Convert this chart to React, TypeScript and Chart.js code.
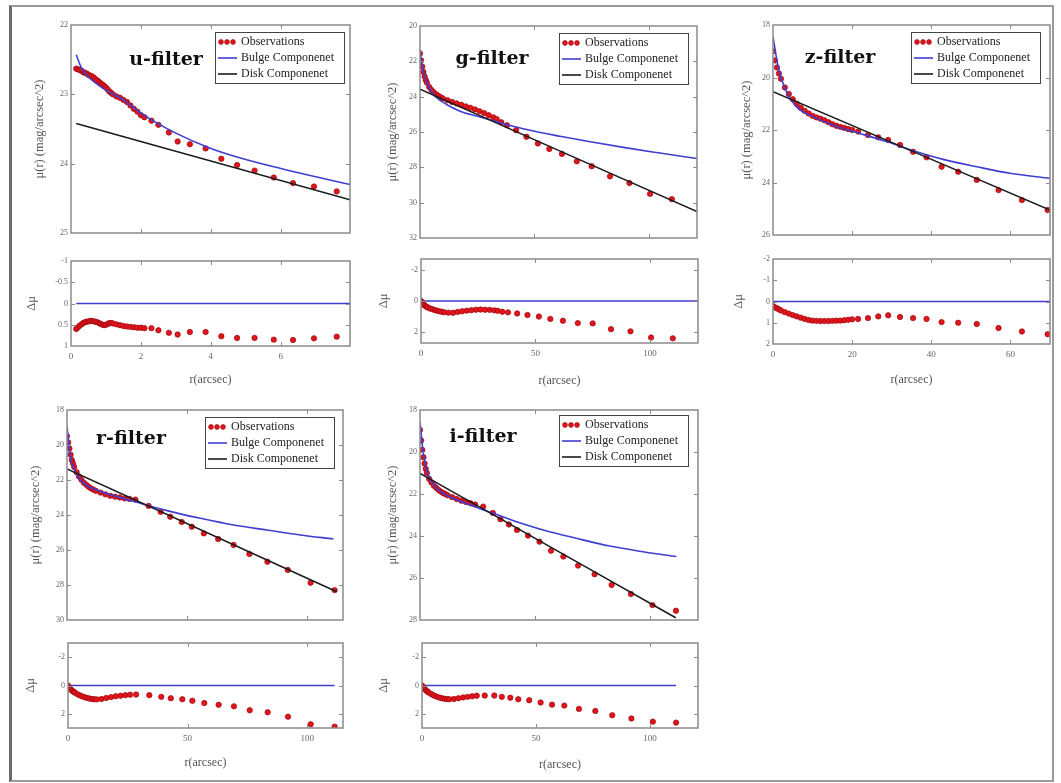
import React, { useEffect, useRef } from "react";
import { Chart, registerables } from "chart.js";
Chart.register(...registerables);

// ---------------- DATA ----------------
// u-filter
const uR = [0.15,0.2,0.25,0.3,0.35,0.4,0.45,0.5,0.55,0.6,0.65,0.7,0.75,0.8,0.85,0.9,0.95,1.0,1.05,1.1,1.15,1.2,1.3,1.4,1.5,1.6,1.7,1.8,1.9,2.0,2.1,2.3,2.5,2.8,3.05,3.4,3.85,4.3,4.75,5.25,5.8,6.35,6.95,7.6];
const uMu = [22.63,22.64,22.65,22.66,22.68,22.69,22.7,22.72,22.73,22.74,22.76,22.78,22.8,22.82,22.84,22.86,22.88,22.9,22.93,22.96,22.98,23.0,23.03,23.05,23.08,23.11,23.16,23.21,23.25,23.3,23.33,23.38,23.44,23.55,23.68,23.72,23.78,23.93,24.02,24.1,24.2,24.28,24.33,24.4];
const uDmu = [0.6,0.56,0.52,0.49,0.46,0.44,0.43,0.42,0.41,0.41,0.42,0.43,0.44,0.46,0.48,0.5,0.51,0.5,0.48,0.46,0.46,0.47,0.49,0.51,0.53,0.54,0.55,0.56,0.57,0.57,0.58,0.58,0.63,0.69,0.73,0.67,0.67,0.77,0.81,0.81,0.85,0.86,0.82,0.78];
const uBulgeR = [0.15,0.3,0.5,1,1.5,2,3,4,5,6,7,7.98];
const uBulgeMu = [22.43,22.62,22.75,22.94,23.08,23.27,23.56,23.78,23.94,24.07,24.19,24.3];
const uDiskR = [0.15,7.98];
const uDiskMu = [23.42,24.52];
const uZeroR = [0.15,7.98];
const uZeroMu = [0,0];
const uRTicks = [0,2,4,6];
const uMuTicks = [22,23,24,25];
const uDmuTicks = [-1,-0.5,0,0.5,1];

// g-filter
const gR = [0,0.5,1,1.5,2,2.5,3,4,5,6,7,8,9,10,12,14,16,18,20,22,24,26,28,30,32,33.5,35.5,38,42,46.5,51.5,56.5,62,68.5,75,83,91.5,100.5,110];
const gMu = [21.55,21.95,22.3,22.6,22.85,23.05,23.2,23.45,23.62,23.75,23.86,23.95,24.03,24.1,24.2,24.3,24.38,24.46,24.55,24.63,24.72,24.82,24.93,25.05,25.17,25.27,25.45,25.62,25.9,26.27,26.65,26.96,27.24,27.66,27.94,28.51,28.89,29.5,29.8];
const gDmu = [0.0,0.1,0.2,0.27,0.33,0.38,0.42,0.48,0.53,0.58,0.62,0.66,0.69,0.72,0.75,0.76,0.7,0.66,0.62,0.59,0.56,0.55,0.56,0.57,0.6,0.63,0.69,0.73,0.8,0.9,1.0,1.15,1.27,1.42,1.44,1.81,1.95,2.35,2.4];
const gBulgeR = [0,1,2.2,4.4,7.3,11.6,17.5,24.7,36.4,46.6,61.1,75.7,90.2,104.8,121];
const gBulgeMu = [21.4,22.3,22.92,23.58,24.06,24.44,24.82,25.1,25.52,25.86,26.24,26.58,26.9,27.19,27.5];
const gDiskR = [0,121];
const gDiskMu = [23.58,30.5];
const gZeroR = [0,121];
const gZeroMu = [0,0];
const gRTicks = [0,50,100];
const gMuTicks = [20,22,24,26,28,30,32];
const gDmuTicks = [-2,0,2];

// z-filter
const zR = [0,0.5,1,1.5,2,3,4,5,6,7,8,9,10,11,12,13,14,15,16,17,18,19,20,21.5,24,26.6,29.1,32.1,35.4,38.8,42.6,46.8,51.5,57,62.9,69.4];
const zMu = [19.0,19.35,19.62,19.85,20.05,20.38,20.63,20.83,21.0,21.15,21.27,21.37,21.46,21.52,21.57,21.63,21.7,21.78,21.84,21.88,21.92,21.96,22.0,22.06,22.19,22.28,22.38,22.57,22.83,23.04,23.4,23.59,23.9,24.29,24.67,25.05];
const zDmu = [0.22,0.28,0.32,0.37,0.42,0.5,0.57,0.64,0.7,0.76,0.82,0.87,0.9,0.91,0.92,0.92,0.92,0.91,0.9,0.9,0.88,0.86,0.84,0.82,0.78,0.7,0.65,0.73,0.78,0.82,0.97,1.0,1.06,1.25,1.41,1.54];
const zBulgeR = [0,1.3,3,5.9,10.1,16,21.9,28.7,36.3,43,51.5,59.9,70];
const zBulgeMu = [18.44,19.59,20.41,21.11,21.49,21.87,22.13,22.44,22.83,23.12,23.4,23.65,23.84];
const zDiskR = [0,70];
const zDiskMu = [20.54,25.05];
const zZeroR = [0,70];
const zZeroMu = [0,0];
const zRTicks = [0,20,40,60];
const zMuTicks = [18,20,22,24,26];
const zDmuTicks = [-2,-1,0,1,2];

// r-filter
const rR = [0,0.5,1,1.5,2,2.5,3,4,5,6,7,8,9,10,11,12,14,16,18,20,22,24,26,28.5,34,39,43,47.8,52,57,63,69.4,76,83.5,92,101.5,111.5];
const rMu = [19.5,19.85,20.2,20.55,20.85,21.05,21.25,21.55,21.8,21.98,22.15,22.27,22.38,22.48,22.55,22.62,22.72,22.82,22.9,22.95,23.0,23.05,23.08,23.12,23.48,23.82,24.1,24.4,24.67,25.05,25.37,25.71,26.23,26.67,27.14,27.87,28.29];
const rDmu = [0.0,0.15,0.25,0.33,0.4,0.46,0.52,0.62,0.7,0.77,0.83,0.88,0.92,0.95,0.97,0.98,0.95,0.88,0.82,0.76,0.72,0.68,0.65,0.64,0.68,0.8,0.9,0.97,1.08,1.24,1.36,1.47,1.75,1.89,2.2,2.74,2.9];
const rBulgeR = [0,1.4,3.5,7,12.5,20.8,30.5,41.7,55.6,69.4,83.3,97.2,111];
const rBulgeMu = [18.95,20.67,21.52,22.19,22.57,22.95,23.33,23.75,24.19,24.57,24.86,25.14,25.37];
const rDiskR = [0,112.4];
const rDiskMu = [21.37,28.38];
const rZeroR = [0,111.5];
const rZeroMu = [0,0];
const rRTicks = [0,50,100];
const rMuTicks = [18,20,22,24,26,28,30];
const rDmuTicks = [-2,0,2];

// i-filter
const iR = [0,0.5,1,1.5,2,2.5,3,4,5,6,7,8,9,10,11,12,14,16,18,20,22,24,27.5,31.7,35,38.7,42.2,47,52,57,62.4,68.8,76,83.4,91.8,101.2,111.4];
const iMu = [18.95,19.45,19.9,20.25,20.55,20.8,21.0,21.28,21.45,21.6,21.7,21.8,21.88,21.95,22.0,22.06,22.15,22.24,22.32,22.38,22.44,22.5,22.6,22.9,23.2,23.45,23.71,23.98,24.27,24.7,24.98,25.41,25.82,26.33,26.76,27.29,27.56];
const iDmu = [0.0,0.12,0.22,0.3,0.38,0.44,0.5,0.6,0.69,0.76,0.82,0.87,0.91,0.94,0.96,0.97,0.95,0.9,0.84,0.8,0.76,0.72,0.71,0.71,0.8,0.86,0.97,1.04,1.2,1.35,1.42,1.65,1.8,2.1,2.33,2.55,2.62];
const iBulgeR = [0,1.45,3.6,7.2,13,21.7,31.9,42,53.6,68.1,82.6,97.1,111.6];
const iBulgeMu = [18.57,20.06,21.1,21.73,22.13,22.52,22.92,23.32,23.71,24.11,24.48,24.75,24.98];
const iDiskR = [0,111.3];
const iDiskMu = [21.02,27.89];
const iZeroR = [0,111.4];
const iZeroMu = [0,0];
const iRTicks = [0,50,100];
const iMuTicks = [18,20,22,24,26,28];
const iDmuTicks = [-2,0,2];

const LBL_OBS = "Observations";
const LBL_BULGE = "Bulge Componenet";
const LBL_DISK = "Disk Componenet";
const MU_TITLE = "μ(r) (mag/arcsec^2)";
const DMU_TITLE = "Δμ";
const R_TITLE = "r(arcsec)";

// ---------------- STYLE ----------------
const SERIF = '"Liberation Serif", "Times New Roman", serif';
const OBS_FILL = "#e3141c";
const OBS_EDGE = "#9a0a10";
const BULGE = "#3e3ed2";
const DISK = "#1b1b1b";
const PADL = 60, PADT = 10, PADR = 10, XAXH = 45;

const pts = (xs: number[], ys: number[]) => xs.map((x, i) => ({ x, y: ys[i] }));

const obsSet = (xs: number[], ys: number[], order: number) => ({
  label: LBL_OBS, data: pts(xs, ys), showLine: false, pointRadius: 2.7,
  backgroundColor: OBS_FILL, borderColor: OBS_EDGE, pointBorderWidth: 0.7, order,
});
const lineSet = (label: string, xs: number[], ys: number[], color: string, order: number) => ({
  label, data: pts(xs, ys), showLine: true, pointRadius: 0, borderColor: color,
  backgroundColor: color, borderWidth: 1.6, cubicInterpolationMode: "monotone", order, fill: false,
});

type Spec = {
  key: string; box: { x0: number; x1: number; y0: number; y1: number };
  xMin: number; xMax: number; yMin: number; yMax: number;
  xTicks: number[]; yTicks: number[]; yTitle: string; yTitleDist: number;
  xTitleDist?: number; datasets: any[];
  legend?: { x: number; y: number }; title?: { text: string; x: number; y: number };
};

function mainSpec(key: string, box: any, xMax: number, yT: number[], xT: number[], dist: number,
  r: number[], mu: number[], bR: number[], bMu: number[], dR: number[], dMu: number[],
  legend: any, title: any): Spec {
  return {
    key, box, xMin: 0, xMax, yMin: yT[0], yMax: yT[yT.length - 1], xTicks: xT, yTicks: yT,
    yTitle: MU_TITLE, yTitleDist: dist, legend, title,
    datasets: [obsSet(r, mu, 3), lineSet(LBL_BULGE, bR, bMu, BULGE, 2), lineSet(LBL_DISK, dR, dMu, DISK, 1)],
  };
}
function resSpec(key: string, box: any, xMax: number, yMin: number, yMax: number, yT: number[], xT: number[],
  dist: number, xdist: number, r: number[], dmu: number[], zR: number[], zMu: number[]): Spec {
  return {
    key, box, xMin: 0, xMax, yMin, yMax, xTicks: xT, yTicks: yT, yTitle: DMU_TITLE,
    yTitleDist: dist, xTitleDist: xdist,
    datasets: [obsSet(r, dmu, 1), lineSet("zero", zR, zMu, BULGE, 2)],
  };
}

const SPECS: Spec[] = [
  mainSpec("u", { x0: 71, x1: 350, y0: 25, y1: 233 }, 7.98, uMuTicks, uRTicks, 31, uR, uMu, uBulgeR, uBulgeMu, uDiskR, uDiskMu, { x: 215, y: 32 }, { text: "u-filter", x: 166, y: 60 }),
  resSpec("ur", { x0: 71, x1: 350, y0: 261, y1: 346 }, 7.98, -1, 1, uDmuTicks, uRTicks, 39, 34, uR, uDmu, uZeroR, uZeroMu),
  mainSpec("g", { x0: 420, x1: 697, y0: 26, y1: 238 }, 121, gMuTicks, gRTicks, 27, gR, gMu, gBulgeR, gBulgeMu, gDiskR, gDiskMu, { x: 559, y: 33 }, { text: "g-filter", x: 492, y: 59 }),
  resSpec("gr", { x0: 421, x1: 698, y0: 259, y1: 343 }, 121, -2.7, 2.7, gDmuTicks, gRTicks, 37.5, 38, gR, gDmu, gZeroR, gZeroMu),
  mainSpec("z", { x0: 773, x1: 1050, y0: 25, y1: 235 }, 70, zMuTicks, zRTicks, 26, zR, zMu, zBulgeR, zBulgeMu, zDiskR, zDiskMu, { x: 911, y: 32 }, { text: "z-filter", x: 840, y: 58 }),
  resSpec("zr", { x0: 773, x1: 1050, y0: 259, y1: 344 }, 70, -2, 2, zDmuTicks, zRTicks, 34, 36, zR, zDmu, zZeroR, zZeroMu),
  mainSpec("r", { x0: 67, x1: 343, y0: 410, y1: 620 }, 115, rMuTicks, rRTicks, 31, rR, rMu, rBulgeR, rBulgeMu, rDiskR, rDiskMu, { x: 205, y: 417 }, { text: "r-filter", x: 131, y: 439 }),
  resSpec("rr", { x0: 68, x1: 343, y0: 643, y1: 728 }, 115, -3, 3, rDmuTicks, rRTicks, 37, 35, rR, rDmu, rZeroR, rZeroMu),
  mainSpec("i", { x0: 420, x1: 698, y0: 410, y1: 620 }, 121, iMuTicks, iRTicks, 27.5, iR, iMu, iBulgeR, iBulgeMu, iDiskR, iDiskMu, { x: 559, y: 415 }, { text: "i-filter", x: 483, y: 437 }),
  resSpec("ir", { x0: 422, x1: 698, y0: 643, y1: 728 }, 121, -3, 3, iDmuTicks, iRTicks, 38, 37, iR, iDmu, iZeroR, iZeroMu),
];

function framePlugin(spec: Spec, ox: number, oy: number) {
  return {
    id: "frame_" + spec.key,
    afterDatasetsDraw(chart: any) {
      const { ctx, chartArea: a, scales } = chart;
      ctx.save();
      const tl = 4;
      ctx.strokeStyle = "#8c8c8c";
      ctx.lineWidth = 1;
      ctx.beginPath();
      for (const v of spec.xTicks) {
        const px = Math.round(scales.x.getPixelForValue(v)) + 0.5;
        if (px <= a.left + 2 || px >= a.right - 2) continue;
        ctx.moveTo(px, a.bottom); ctx.lineTo(px, a.bottom - tl);
        ctx.moveTo(px, a.top); ctx.lineTo(px, a.top + tl);
      }
      for (const v of spec.yTicks) {
        const py = Math.round(scales.y.getPixelForValue(v)) + 0.5;
        if (py <= a.top + 2 || py >= a.bottom - 2) continue;
        ctx.moveTo(a.left, py); ctx.lineTo(a.left + tl, py);
        ctx.moveTo(a.right, py); ctx.lineTo(a.right - tl, py);
      }
      ctx.stroke();
      ctx.lineWidth = 1.5;
      ctx.strokeStyle = "#8a8a8a";
      ctx.strokeRect(a.left, a.top, a.right - a.left, a.bottom - a.top);

      if (spec.legend) {
        const lx = spec.legend.x - ox, ly = spec.legend.y - oy, w = 129, h = 51;
        ctx.fillStyle = "#fff";
        ctx.fillRect(lx, ly, w, h);
        ctx.strokeStyle = "#444";
        ctx.lineWidth = 1;
        ctx.strokeRect(lx + 0.5, ly + 0.5, w, h);
        const ds = chart.data.datasets;
        const rows = [ly + 10, ly + 26, ly + 42];
        for (const dx of [6, 12, 18]) {
          ctx.beginPath();
          ctx.arc(lx + dx, rows[0], 2.4, 0, Math.PI * 2);
          ctx.fillStyle = OBS_FILL; ctx.fill();
          ctx.strokeStyle = OBS_EDGE; ctx.lineWidth = 0.7; ctx.stroke();
        }
        const lines: [number, string][] = [[1, BULGE], [2, DISK]];
        for (const [k, c] of lines) {
          ctx.beginPath();
          ctx.moveTo(lx + 3, rows[k]); ctx.lineTo(lx + 22, rows[k]);
          ctx.strokeStyle = c; ctx.lineWidth = 1.6; ctx.stroke();
        }
        ctx.fillStyle = "#222";
        ctx.font = `12px ${SERIF}`;
        ctx.textAlign = "left";
        ctx.textBaseline = "middle";
        for (let k = 0; k < 3; k++) ctx.fillText(ds[k].label, lx + 26, rows[k]);
      }
      if (spec.title) {
        ctx.fillStyle = "#111";
        ctx.font = `bold 19px "DejaVu Serif", serif`;
        ctx.textAlign = "center";
        ctx.textBaseline = "middle";
        ctx.fillText(spec.title.text, spec.title.x - ox, spec.title.y - oy);
      }
      ctx.restore();
    },
  };
}

function Plot({ spec }: { spec: Spec }) {
  const ref = useRef<HTMLCanvasElement>(null);
  const isRes = spec.xTitleDist !== undefined;
  const b = spec.box;
  const left = b.x0 - PADL;
  const top = b.y0 - PADT;
  const width = b.x1 - b.x0 + PADL + PADR;
  const height = b.y1 - b.y0 + PADT + (isRes ? XAXH : PADT);

  useEffect(() => {
    if (!ref.current) return;
    const chart = new Chart(ref.current, {
      type: "scatter",
      data: { datasets: spec.datasets },
      options: {
        animation: false,
        responsive: false,
        devicePixelRatio: 1,
        events: [],
        layout: { padding: { left: 0, top: PADT, right: PADR, bottom: isRes ? 0 : PADT } },
        plugins: { legend: { display: false }, tooltip: { enabled: false } },
        scales: {
          x: {
            type: "linear", min: spec.xMin, max: spec.xMax, display: isRes,
            afterBuildTicks: (s: any) => { s.ticks = spec.xTicks.map((v) => ({ value: v })); },
            afterFit: (s: any) => { s.height = isRes ? XAXH : 0; },
            grid: { display: false, drawTicks: false },
            border: { display: false },
            ticks: {
              autoSkip: false, maxRotation: 0, padding: 5, color: "#666",
              font: { family: SERIF, size: 9 }, callback: (v: any) => String(v),
            },
            title: {
              display: isRes, text: R_TITLE, color: "#555",
              font: { family: SERIF, size: 12 },
              padding: { top: 0, bottom: 37.8 - (spec.xTitleDist || 0) },
            },
          },
          y: {
            type: "linear", reverse: true, min: spec.yMin, max: spec.yMax,
            afterBuildTicks: (s: any) => { s.ticks = spec.yTicks.map((v) => ({ value: v })); },
            afterFit: (s: any) => { s.width = PADL; },
            grid: { display: false, drawTicks: false },
            border: { display: false },
            ticks: {
              autoSkip: false, padding: 3, color: "#666",
              font: { family: SERIF, size: 8 }, callback: (v: any) => String(v),
            },
            title: {
              display: true, text: spec.yTitle, color: "#555",
              font: { family: SERIF, size: 12.5 },
              padding: { top: 52.5 - spec.yTitleDist, bottom: 0 },
            },
          },
        },
      } as any,
      plugins: [framePlugin(spec, left, top)],
    });
    return () => chart.destroy();
  }, []);

  return (
    <canvas
      ref={ref}
      width={width}
      height={height}
      style={{ position: "absolute", left, top, width, height }}
    />
  );
}

export default function App() {
  return (
    <div style={{ position: "absolute", left: 0, top: 0, width: 1061, height: 783, background: "#fff", overflow: "hidden" }}>
      <div
        style={{
          position: "absolute", left: 9, top: 5, width: 1045, height: 777, boxSizing: "border-box",
          border: "2px solid #9a9a9a", borderLeft: "3px solid #6a6a6a",
        }}
      />
      {SPECS.map((s) => (
        <Plot key={s.key} spec={s} />
      ))}
    </div>
  );
}
